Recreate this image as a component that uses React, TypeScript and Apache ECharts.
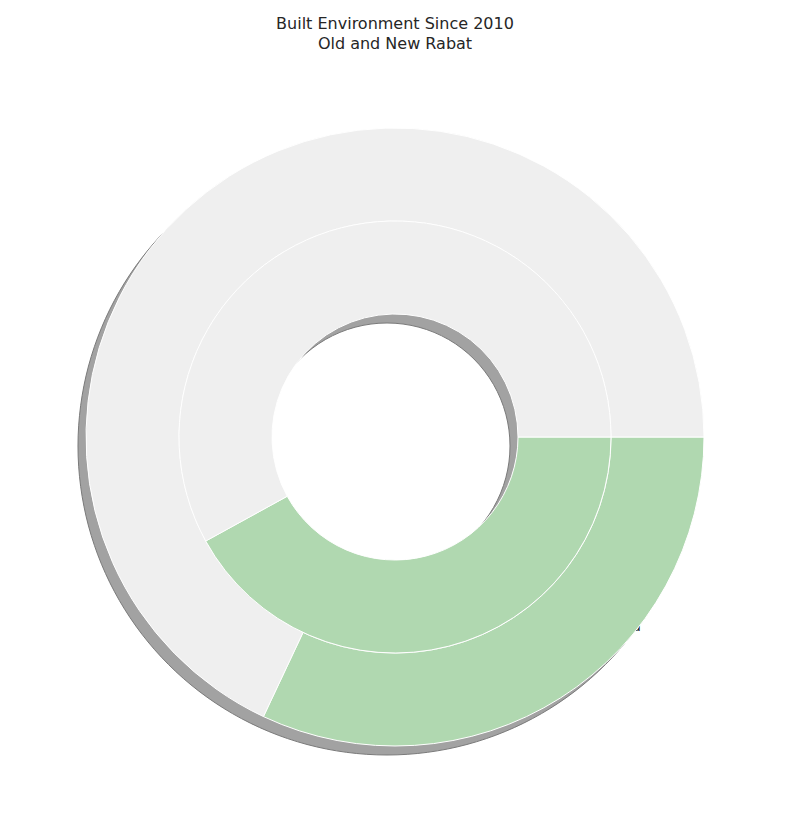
import { useEffect, useRef } from "react";
import * as echarts from "echarts";

const outerNames = ["Constructed Land", "Other Land"];
const outerValues = [32, 68];
const innerNames = ["Construction", "Other"];
const innerValues = [42, 58];
const colors = ["#b0d8b0", "#efefef"];

export default function App() {
  const ref = useRef<HTMLDivElement>(null);

  useEffect(() => {
    document.body.style.margin = "0";
    if (!ref.current) return;
    const chart = echarts.init(ref.current, undefined, { renderer: "svg" });
    const cx = 395;
    const cy = 437;
    const mk = (names: string[], values: number[]) =>
      names.map((n, i) => ({ name: n, value: values[i], itemStyle: { color: colors[i] } }));
    chart.setOption({
      animation: false,
      title: {
        text: "Built Environment Since 2010\nOld and New Rabat",
        left: "center",
        top: 8,
        textStyle: { fontFamily: "DejaVu Sans", fontSize: 16, fontWeight: "normal", color: "#262626", lineHeight: 20 },
      },
      series: [
        {
          type: "pie",
          silent: true,
          center: [cx - 8, cy + 9],
          radius: [123, 309],
          label: { show: false },
          data: [{ value: 1, itemStyle: { color: "#a2a2a2", borderColor: "#7a7a7a", borderWidth: 1 } }],
        },
        {
          type: "pie",
          center: [cx, cy],
          radius: [216, 309],
          startAngle: 0,
          clockwise: true,
          label: { show: false },
          itemStyle: { borderColor: "#fff", borderWidth: 1 },
          data: mk(outerNames, outerValues),
        },
        {
          type: "pie",
          center: [cx, cy],
          radius: [123, 216],
          startAngle: 0,
          clockwise: true,
          label: { show: false },
          itemStyle: { borderColor: "#fff", borderWidth: 1 },
          data: mk(innerNames, innerValues),
        },
      ],
      graphic: [
        {
          type: "text",
          left: 430,
          top: 557,
          style: { text: `${innerNames[0]}\n${innerValues[0]}%`, font: "14px DejaVu Sans", fill: "#262626", lineHeight: 17 },
        },
        {
          type: "text",
          left: 517,
          top: 617,
          style: { text: `${outerNames[0]}\n${outerValues[0]}%`, font: "14px DejaVu Sans", fill: "#262626", lineHeight: 17 },
        },
      ],
    });
    return () => chart.dispose();
  }, []);

  return <div ref={ref} style={{ width: 790, height: 833 }} />;
}
